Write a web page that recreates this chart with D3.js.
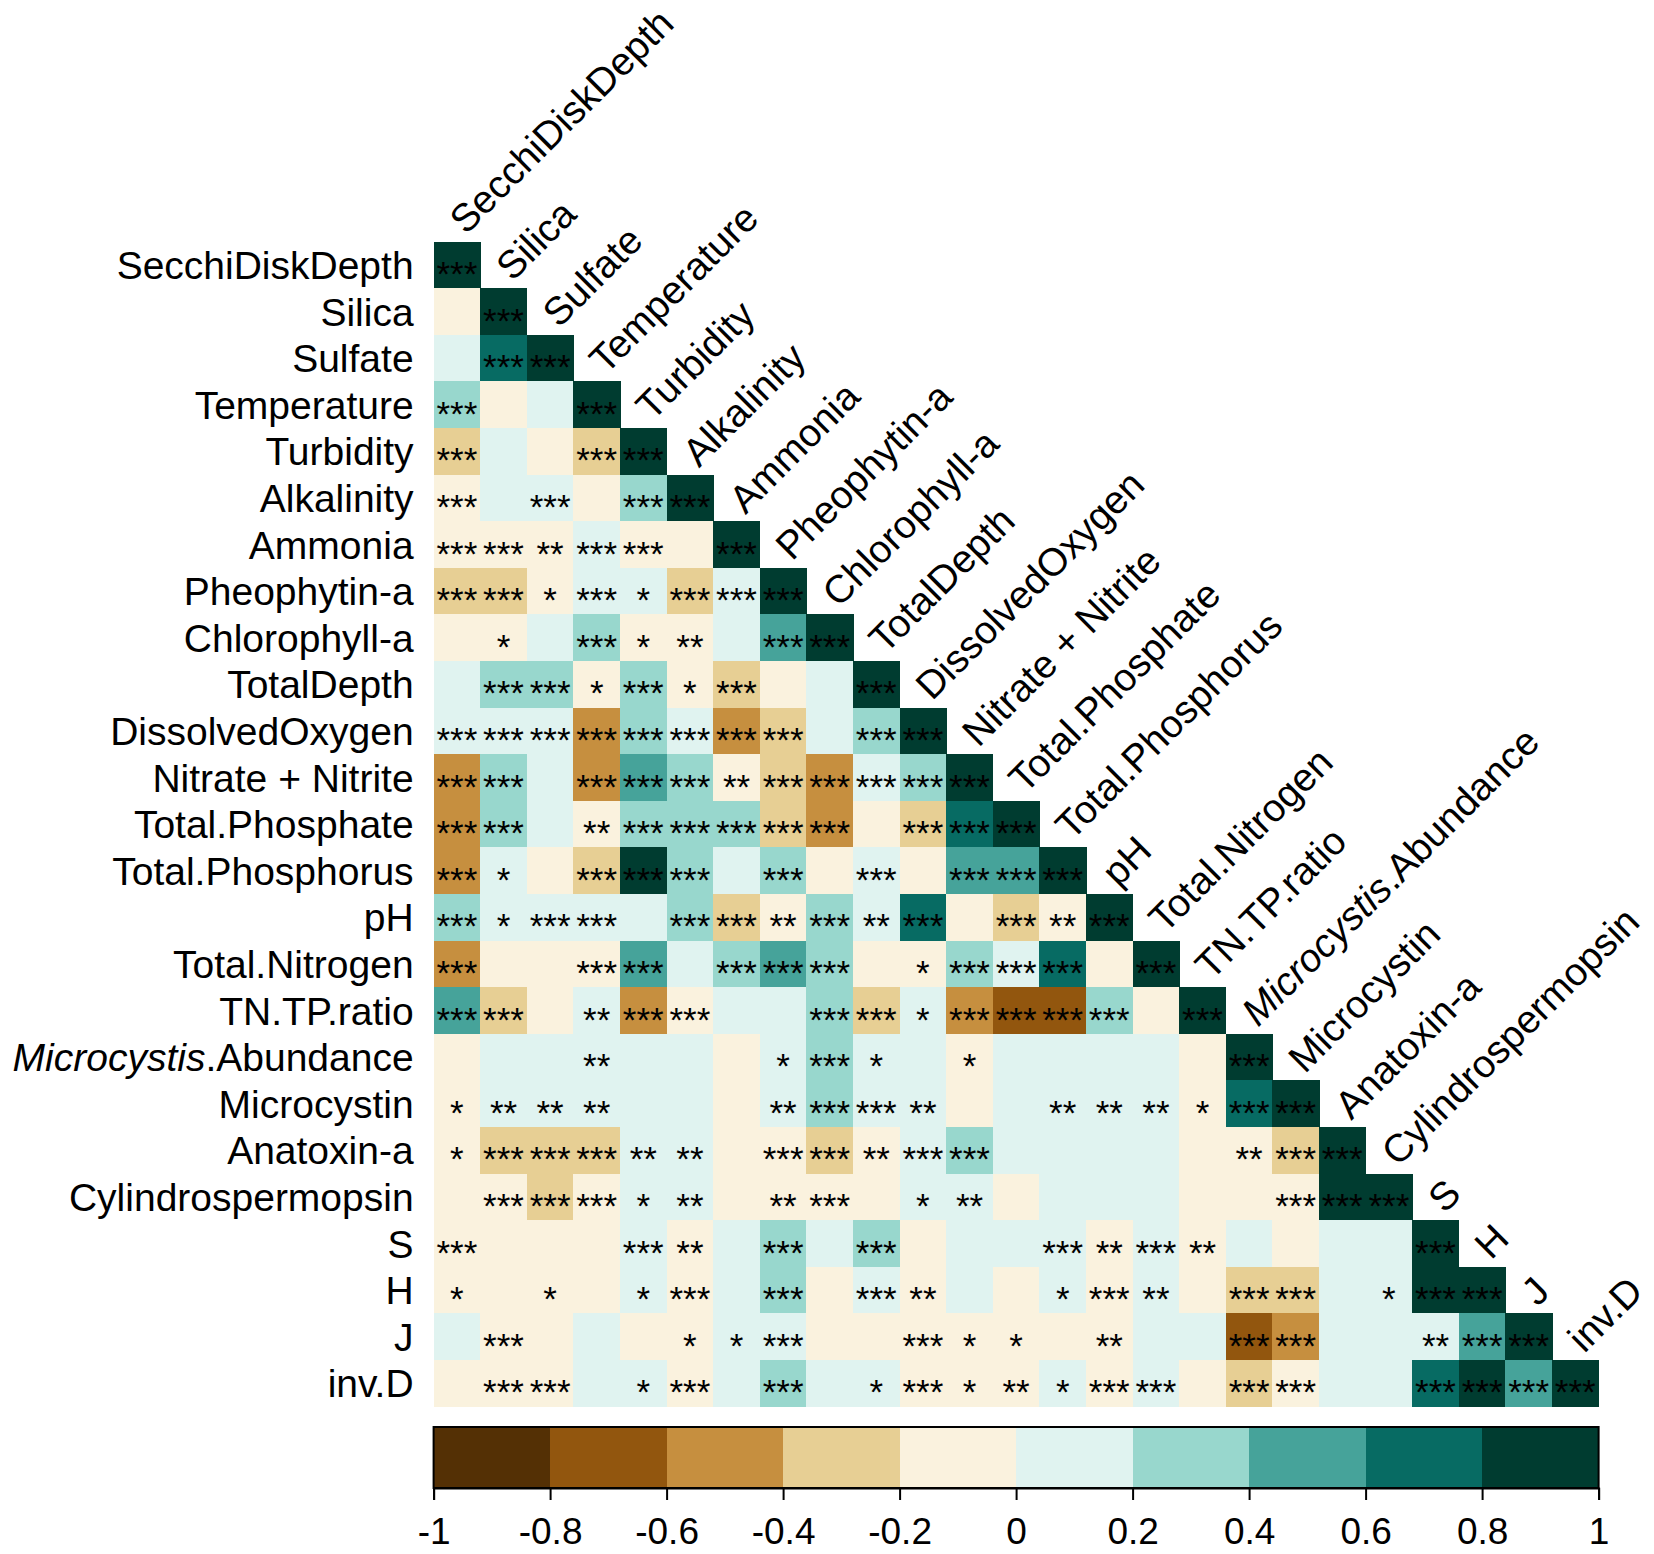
<!DOCTYPE html>
<html>
<head>
<meta charset="utf-8">
<script src="https://cdn.jsdelivr.net/npm/d3@7"></script>
<style>
  body { margin: 0; background: #fff; }
  text { font-family: "Liberation Sans", Arial, sans-serif; }
</style>
</head>
<body>
<svg id="chart" width="1654" height="1554"></svg>
<script>
// variable names (rows top to bottom, columns left to right)
const variables = [
  "SecchiDiskDepth", "Silica", "Sulfate", "Temperature", "Turbidity", "Alkalinity",
  "Ammonia", "Pheophytin-a", "Chlorophyll-a", "TotalDepth", "DissolvedOxygen",
  "Nitrate + Nitrite", "Total.Phosphate", "Total.Phosphorus", "pH", "Total.Nitrogen",
  "TN.TP.ratio", "Microcystis.Abundance", "Microcystin", "Anatoxin-a",
  "Cylindrospermopsin", "S", "H", "J", "inv.D"
];

// estimated correlations, lower triangle incl. diagonal (row i has i+1 values)
const corr = [
  [1],
  [-0.1, 1],
  [0.1, 0.7, 1],
  [0.3, -0.1, 0.1, 1],
  [-0.3, 0.1, -0.1, -0.3, 1],
  [-0.1, 0.1, 0.1, -0.1, 0.3, 1],
  [-0.1, -0.1, -0.1, 0.1, -0.1, -0.1, 1],
  [-0.3, -0.3, -0.1, 0.1, 0.1, -0.3, 0.1, 1],
  [-0.1, -0.1, 0.1, 0.3, -0.1, -0.1, 0.1, 0.5, 1],
  [0.1, 0.3, 0.3, -0.1, 0.3, -0.1, -0.3, -0.1, 0.1, 1],
  [0.1, 0.1, 0.1, -0.5, 0.3, 0.1, -0.5, -0.3, 0.1, 0.3, 1],
  [-0.5, 0.3, 0.1, -0.5, 0.5, 0.3, -0.1, -0.3, -0.5, 0.1, 0.3, 1],
  [-0.5, 0.3, 0.1, -0.1, 0.3, 0.3, 0.3, -0.3, -0.5, -0.1, -0.3, 0.7, 1],
  [-0.5, 0.1, -0.1, -0.3, 0.9, 0.3, 0.1, 0.3, -0.1, 0.1, -0.1, 0.5, 0.5, 1],
  [0.3, 0.1, 0.1, 0.1, 0.1, 0.3, -0.3, -0.1, 0.3, 0.1, 0.7, -0.1, -0.3, -0.1, 1],
  [-0.5, -0.1, -0.1, -0.1, 0.5, 0.1, 0.3, 0.5, 0.3, -0.1, -0.1, 0.3, 0.1, 0.7, -0.1, 1],
  [0.5, -0.3, -0.1, 0.1, -0.5, -0.1, 0.1, 0.1, 0.3, -0.3, 0.1, -0.5, -0.7, -0.7, 0.3, -0.1, 1],
  [-0.1, 0.1, 0.1, 0.1, 0.1, 0.1, -0.1, 0.1, 0.3, 0.1, 0.1, -0.1, 0.1, 0.1, 0.1, 0.1, -0.1, 1],
  [-0.1, 0.1, 0.1, 0.1, 0.1, 0.1, -0.1, 0.1, 0.3, 0.1, 0.1, -0.1, 0.1, 0.1, 0.1, 0.1, -0.1, 0.7, 1],
  [-0.1, -0.3, -0.3, -0.3, 0.1, 0.1, -0.1, -0.1, -0.3, -0.1, 0.1, 0.3, 0.1, 0.1, 0.1, 0.1, -0.1, -0.1, -0.3, 1],
  [-0.1, -0.1, -0.3, -0.1, 0.1, 0.1, -0.1, -0.1, -0.1, -0.1, 0.1, 0.1, -0.1, 0.1, 0.1, 0.1, -0.1, -0.1, -0.1, 0.9, 1],
  [-0.1, -0.1, -0.1, -0.1, 0.1, -0.1, 0.1, 0.3, 0.1, 0.3, -0.1, 0.1, 0.1, 0.1, -0.1, 0.1, -0.1, 0.1, -0.1, 0.1, 0.1, 1],
  [-0.1, -0.1, -0.1, -0.1, 0.1, -0.1, 0.1, 0.3, -0.1, 0.1, -0.1, 0.1, -0.1, 0.1, -0.1, 0.1, -0.1, -0.3, -0.3, 0.1, 0.1, 0.9, 1],
  [0.1, -0.1, -0.1, 0.1, -0.1, -0.1, 0.1, 0.1, -0.1, -0.1, -0.1, -0.1, -0.1, -0.1, -0.1, 0.1, 0.1, -0.7, -0.5, 0.1, 0.1, 0.1, 0.5, 1],
  [-0.1, -0.1, -0.1, 0.1, 0.1, -0.1, 0.1, 0.3, 0.1, 0.1, -0.1, -0.1, -0.1, 0.1, -0.1, 0.1, -0.1, -0.3, -0.1, 0.1, 0.1, 0.7, 0.9, 0.5, 1]
];

// number of significance stars per cell (0 = none)
const stars = [
  [3],
  [0, 3],
  [0, 3, 3],
  [3, 0, 0, 3],
  [3, 0, 0, 3, 3],
  [3, 0, 3, 0, 3, 3],
  [3, 3, 2, 3, 3, 0, 3],
  [3, 3, 1, 3, 1, 3, 3, 3],
  [0, 1, 0, 3, 1, 2, 0, 3, 3],
  [0, 3, 3, 1, 3, 1, 3, 0, 0, 3],
  [3, 3, 3, 3, 3, 3, 3, 3, 0, 3, 3],
  [3, 3, 0, 3, 3, 3, 2, 3, 3, 3, 3, 3],
  [3, 3, 0, 2, 3, 3, 3, 3, 3, 0, 3, 3, 3],
  [3, 1, 0, 3, 3, 3, 0, 3, 0, 3, 0, 3, 3, 3],
  [3, 1, 3, 3, 0, 3, 3, 2, 3, 2, 3, 0, 3, 2, 3],
  [3, 0, 0, 3, 3, 0, 3, 3, 3, 0, 1, 3, 3, 3, 0, 3],
  [3, 3, 0, 2, 3, 3, 0, 0, 3, 3, 1, 3, 3, 3, 3, 0, 3],
  [0, 0, 0, 2, 0, 0, 0, 1, 3, 1, 0, 1, 0, 0, 0, 0, 0, 3],
  [1, 2, 2, 2, 0, 0, 0, 2, 3, 3, 2, 0, 0, 2, 2, 2, 1, 3, 3],
  [1, 3, 3, 3, 2, 2, 0, 3, 3, 2, 3, 3, 0, 0, 0, 0, 0, 2, 3, 3],
  [0, 3, 3, 3, 1, 2, 0, 2, 3, 0, 1, 2, 0, 0, 0, 0, 0, 0, 3, 3, 3],
  [3, 0, 0, 0, 3, 2, 0, 3, 0, 3, 0, 0, 0, 3, 2, 3, 2, 0, 0, 0, 0, 3],
  [1, 0, 1, 0, 1, 3, 0, 3, 0, 3, 2, 0, 0, 1, 3, 2, 0, 3, 3, 0, 1, 3, 3],
  [0, 3, 0, 0, 0, 1, 1, 3, 0, 0, 3, 1, 1, 0, 2, 0, 0, 3, 3, 0, 0, 2, 3, 3],
  [0, 3, 3, 0, 1, 3, 0, 3, 0, 1, 3, 1, 2, 1, 3, 3, 0, 3, 3, 0, 0, 3, 3, 3, 3]
];

// 10-step BrBG palette
const palette = [
  "#543005", "#92560e", "#c68f3f", "#e7cf94", "#faf2de",
  "#e0f3f0", "#98d7cd", "#46a39a", "#076b63", "#003c30"
];
const legendTicks = [-1, -0.8, -0.6, -0.4, -0.2, 0, 0.2, 0.4, 0.6, 0.8, 1];

const svg = d3.select("#chart");
const gridLeft = 433.6, gridTop = 241.6, gridSize = 1165;

const x = d3.scaleBand().domain(d3.range(variables.length)).range([gridLeft, gridLeft + gridSize]);
const y = d3.scaleBand().domain(d3.range(variables.length)).range([gridTop, gridTop + gridSize]);
const color = d3.scaleQuantize().domain([-1, 1]).range(palette);

// flatten lower triangle
const cells = [];
corr.forEach((row, i) => row.forEach((v, j) => cells.push({ i, j, v, s: stars[i][j] })));

svg.append("g")
  .selectAll("rect")
  .data(cells)
  .join("rect")
  .attr("x", d => x(d.j))
  .attr("y", d => y(d.i))
  .attr("width", x.bandwidth() + 0.5)
  .attr("height", y.bandwidth() + 0.5)
  .attr("fill", d => color(d.v))
  .attr("shape-rendering", "crispEdges");

svg.append("g")
  .selectAll("text")
  .data(cells.filter(d => d.s > 0))
  .join("text")
  .attr("x", d => x(d.j) + x.bandwidth() / 2)
  .attr("y", d => y(d.i) + y.bandwidth() / 2 + 21)
  .attr("text-anchor", "middle")
  .attr("font-size", 35)
  .attr("fill", "#000")
  .text(d => "*".repeat(d.s));

// label with italic genus name
function writeLabel(sel, name) {
  if (name.startsWith("Microcystis.")) {
    sel.append("tspan").attr("font-style", "italic").text("Microcystis");
    sel.append("tspan").text(name.slice("Microcystis".length));
  } else {
    sel.text(name);
  }
}

// row labels
svg.append("g")
  .selectAll("text")
  .data(variables)
  .join("text")
  .attr("x", gridLeft - 20)
  .attr("y", (d, i) => y(i) + y.bandwidth() / 2 + 14)
  .attr("text-anchor", "end")
  .attr("font-size", 39)
  .each(function (d) { writeLabel(d3.select(this), d); });

// column labels on the diagonal, rotated 45 degrees
svg.append("g")
  .selectAll("text")
  .data(variables)
  .join("text")
  .attr("transform", (d, i) => `translate(${x(i) + x.bandwidth() / 2 + 9},${y(i) - 6}) rotate(-45)`)
  .attr("text-anchor", "start")
  .attr("font-size", 39)
  .each(function (d) { writeLabel(d3.select(this), d); });

// colour legend
const legTop = 1427, legH = 61;
const lx = d3.scaleLinear().domain([-1, 1]).range([gridLeft, gridLeft + gridSize]);
const bins = palette.map((c, k) => ({ c, a: legendTicks[k], b: legendTicks[k + 1] }));

svg.append("g")
  .selectAll("rect")
  .data(bins)
  .join("rect")
  .attr("x", d => lx(d.a))
  .attr("y", legTop)
  .attr("width", d => lx(d.b) - lx(d.a) + 0.5)
  .attr("height", legH)
  .attr("fill", d => d.c)
  .attr("shape-rendering", "crispEdges");

svg.append("rect")
  .attr("x", gridLeft)
  .attr("y", legTop)
  .attr("width", gridSize)
  .attr("height", legH)
  .attr("fill", "none")
  .attr("stroke", "#000")
  .attr("stroke-width", 2);

const axis = svg.append("g")
  .attr("transform", `translate(0,${legTop + legH})`)
  .call(d3.axisBottom(lx)
    .tickValues(legendTicks)
    .tickSize(12)
    .tickPadding(18)
    .tickFormat(d => String(d)));

axis.select(".domain").attr("stroke", "#000").attr("stroke-width", 2);
axis.selectAll(".tick line").attr("stroke", "#000").attr("stroke-width", 2);
axis.selectAll(".tick text")
  .attr("font-size", 37)
  .attr("fill", "#000")
  .attr("font-family", "'Liberation Sans', Arial, sans-serif");
</script>
</body>
</html>
